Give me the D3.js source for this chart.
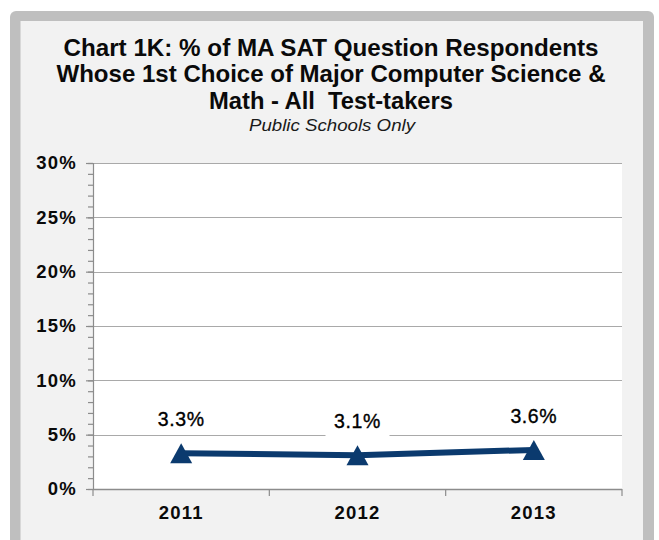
<!DOCTYPE html>
<html>
<head>
<meta charset="utf-8">
<script src="https://cdn.jsdelivr.net/npm/d3@7/dist/d3.min.js"></script>
<style>
  body { margin: 0; background: #fff; }
  text { font-family: "Liberation Sans", Arial, sans-serif; }
</style>
</head>
<body>
<div id="chart"></div>
<script>
var W = 659, H = 540;

// data
var years = ["2011", "2012", "2013"];
var pct = [3.3, 3.1, 3.6];
var labels = ["3.3%", "3.1%", "3.6%"];
var yMajor = [0, 5, 10, 15, 20, 25, 30];
var yMinor = d3.range(0, 31, 1);
var titleLines = ["Chart 1K: % of MA SAT Question Respondents",
                  "Whose 1st Choice of Major Computer Science &",
                  "Math - All  Test-takers"];
var subtitle = "Public Schools Only";

var navy = "#0b3a6e";

var svg = d3.select("#chart").append("svg")
  .attr("width", W)
  .attr("height", H);

// frame
svg.append("rect")
  .attr("x", 10).attr("y", 11)
  .attr("width", 644).attr("height", 560)
  .attr("rx", 6)
  .attr("fill", "#bfbfbf");

svg.append("rect")
  .attr("x", 20.5).attr("y", 21)
  .attr("width", 622.5).attr("height", 560)
  .attr("fill", "#f2f2f2");

// title
var titleW = [535, 549, 244];
svg.selectAll(".title")
  .data(titleLines)
  .enter().append("text")
  .attr("class", "title")
  .attr("x", 331)
  .attr("y", function(d, i) { return 55.5 + i * 26.5; })
  .attr("text-anchor", "middle")
  .attr("font-size", 24)
  .attr("font-weight", "bold")
  .attr("fill", "#0a0a0a")
  .style("white-space", "pre")
  .attr("textLength", function(d, i) { return titleW[i]; })
  .attr("lengthAdjust", "spacingAndGlyphs")
  .text(function(d) { return d; });

svg.append("text")
  .attr("x", 332)
  .attr("y", 131)
  .attr("text-anchor", "middle")
  .attr("font-size", 17)
  .attr("font-style", "italic")
  .attr("fill", "#1a1a1a")
  .attr("textLength", 166)
  .attr("lengthAdjust", "spacingAndGlyphs")
  .text(subtitle);

// plot area
var pLeft = 93, pRight = 622, pTop = 163, pBottom = 489;

var x = d3.scaleBand().domain(years).range([pLeft, pRight]).padding(0);
var y = d3.scaleLinear().domain([0, 30]).range([pBottom, pTop]);

svg.append("rect")
  .attr("x", pLeft).attr("y", pTop)
  .attr("width", pRight - pLeft).attr("height", pBottom - pTop)
  .attr("fill", "#fff");

// gridlines
svg.append("g").selectAll("line")
  .data(yMajor.filter(function(d) { return d > 0; }))
  .enter().append("line")
  .attr("x1", pLeft).attr("x2", pRight)
  .attr("y1", function(d) { return Math.round(y(d)) + 0.5; })
  .attr("y2", function(d) { return Math.round(y(d)) + 0.5; })
  .attr("stroke", "#a9a9a9")
  .attr("stroke-width", 1.2);

// y axis: minor then major ticks
var yMinorAxis = svg.append("g")
  .attr("transform", "translate(" + pLeft + ",0)")
  .call(d3.axisLeft(y).tickValues(yMinor).tickSize(5).tickFormat(""));
yMinorAxis.select(".domain").remove();

var yAxis = svg.append("g")
  .attr("transform", "translate(" + pLeft + ",0)")
  .call(d3.axisLeft(y).tickValues(yMajor).tickSize(7).tickPadding(9)
    .tickFormat(function(d) { return d + "%"; }));

svg.selectAll(".tick line").attr("stroke", "#8c8c8c").attr("stroke-width", 1.2);
yAxis.select(".domain").attr("stroke", "#8c8c8c").attr("stroke-width", 1.2)
  .attr("d", "M0.5," + pTop + "V" + pBottom);
yAxis.selectAll("text")
  .attr("font-size", 18.5)
  .attr("font-weight", "bold")
  .attr("letter-spacing", 1.2)
  .attr("fill", "#0a0a0a")
  .attr("font-family", "Liberation Sans, Arial, sans-serif");

// x axis
var xAxis = svg.append("g")
  .attr("transform", "translate(0," + pBottom + ")")
  .call(d3.axisBottom(x).tickSize(0).tickPadding(17));
xAxis.select(".domain")
  .attr("d", "M" + pLeft + ",0.5H" + pRight)
  .attr("stroke", "#8c8c8c")
  .attr("stroke-width", 1.5);
xAxis.selectAll("text")
  .attr("font-size", 18.5)
  .attr("font-weight", "bold")
  .attr("letter-spacing", 1.2)
  .attr("fill", "#0a0a0a")
  .attr("font-family", "Liberation Sans, Arial, sans-serif");

// category boundary ticks
var bounds = years.map(function(d) { return x(d); }).concat([x(years[years.length - 1]) + x.bandwidth()]);
svg.append("g").selectAll("line")
  .data(bounds)
  .enter().append("line")
  .attr("x1", function(d) { return d; })
  .attr("x2", function(d) { return d; })
  .attr("y1", pBottom).attr("y2", pBottom + 7)
  .attr("stroke", "#8c8c8c")
  .attr("stroke-width", 1.2);

var pts = years.map(function(d, i) {
  return { year: d, v: pct[i], label: labels[i] };
});
var cx = function(d) { return x(d.year) + x.bandwidth() / 2; };

// labels with white boxes
var lab = svg.append("g").selectAll("g")
  .data(pts)
  .enter().append("g")
  .attr("transform", function(d) { return "translate(" + cx(d) + "," + (y(d.v) - 27) + ")"; });

lab.append("rect")
  .attr("x", -32).attr("y", -21)
  .attr("width", 64).attr("height", 29)
  .attr("fill", "#fff");

lab.append("text")
  .attr("text-anchor", "middle")
  .attr("font-size", 19.5)
  .attr("letter-spacing", 0.6)
  .attr("fill", "#000")
  .attr("stroke", "#000")
  .attr("stroke-width", 0.35)
  .text(function(d) { return d.label; });

// line
svg.append("path")
  .datum(pts)
  .attr("fill", "none")
  .attr("stroke", navy)
  .attr("stroke-width", 6)
  .attr("d", d3.line().x(cx).y(function(d) { return y(d.v); }));

// triangle markers, bounding box centred on the point
var tri = {
  draw: function(ctx, size) {
    var w = 11, h = 10;
    ctx.moveTo(0, -h);
    ctx.lineTo(w, h);
    ctx.lineTo(-w, h);
    ctx.closePath();
  }
};
svg.append("g").selectAll("path")
  .data(pts)
  .enter().append("path")
  .attr("transform", function(d) { return "translate(" + cx(d) + "," + y(d.v) + ")"; })
  .attr("d", d3.symbol().type(tri))
  .attr("fill", navy);
</script>
</body>
</html>
